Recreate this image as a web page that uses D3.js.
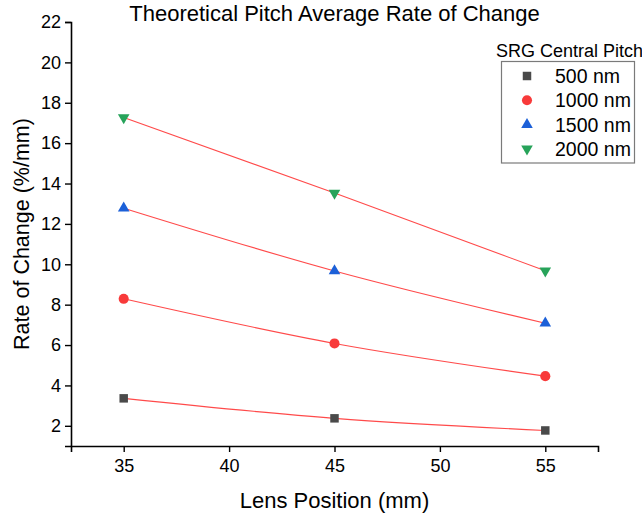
<!DOCTYPE html>
<html>
<head>
<meta charset="utf-8">
<script src="https://cdn.jsdelivr.net/npm/d3@7"></script>
<style>
  body { margin: 0; background: #fff; }
  text { font-family: "Liberation Sans", Arial, sans-serif; fill: #000; }
</style>
</head>
<body>
<div id="chart"></div>
<script>
// Data
var lensPositions = [35, 45, 55];
var pitchLabels = ["500 nm", "1000 nm", "1500 nm", "2000 nm"];
var rate500 = [3.36, 2.37, 1.77];
var rate1000 = [8.29, 6.08, 4.46];
var rate1500 = [12.78, 9.67, 7.08];
var rate2000 = [17.27, 13.53, 9.68];
var xTicks = [35, 40, 45, 50, 55];
var yTicks = [2, 4, 6, 8, 10, 12, 14, 16, 18, 20, 22];

var width = 642, height = 517;
var margin = { top: 22, right: 44, bottom: 71, left: 71 };

var svg = d3.select("#chart").append("svg")
    .attr("width", width)
    .attr("height", height);

var x = d3.scaleLinear().domain([32.5, 57.5]).range([margin.left, width - margin.right]);
var y = d3.scaleLinear().domain([1, 22]).range([height - margin.bottom, margin.top]);

// Series styles
var series = [
    { label: pitchLabels[0], values: rate500, color: "#4a4a4a", symbol: d3.symbolSquare, size: 72, rotate: 0 },
    { label: pitchLabels[1], values: rate1000, color: "#f83a3a", symbol: d3.symbolCircle, size: 80, rotate: 0 },
    { label: pitchLabels[2], values: rate1500, color: "#1c60d8", symbol: d3.symbolTriangle, size: 58, rotate: 0 },
    { label: pitchLabels[3], values: rate2000, color: "#27a35a", symbol: d3.symbolTriangle, size: 58, rotate: 180 }
];

// Axes
var minorX = d3.range(32.5, 57.6, 2.5).filter(function(d) { return d % 5 !== 0; });
var minorY = d3.range(1, 22, 2);

var xAxisG = svg.append("g")
    .attr("transform", "translate(0," + y.range()[0] + ")");
xAxisG.call(d3.axisBottom(x).tickValues(minorX).tickSize(4).tickFormat(""));
xAxisG.call(d3.axisBottom(x).tickValues(xTicks).tickSize(6).tickPadding(7).tickFormat(d3.format("d")));
xAxisG.selectAll("path").attr("stroke-width", 1.6).attr("stroke", "#000");
xAxisG.selectAll("line").attr("stroke-width", 1.4).attr("stroke", "#000");
xAxisG.selectAll("text").style("font-size", "18px").attr("fill", "#000");

var yAxisG = svg.append("g")
    .attr("transform", "translate(" + x.range()[0] + ",0)");
yAxisG.call(d3.axisLeft(y).tickValues(minorY).tickSize(4).tickFormat(""));
yAxisG.call(d3.axisLeft(y).tickValues(yTicks).tickSize(6).tickPadding(4).tickFormat(d3.format("d")));
yAxisG.selectAll("path").attr("stroke-width", 1.6).attr("stroke", "#000");
yAxisG.selectAll("line").attr("stroke-width", 1.4).attr("stroke", "#000");
yAxisG.selectAll("text").style("font-size", "18px").attr("fill", "#000");

// Fitted curves
var line = d3.line()
    .x(function(d, i) { return x(lensPositions[i]); })
    .y(function(d) { return y(d); })
    .curve(d3.curveNatural);

svg.append("g").selectAll("path")
    .data(series)
    .join("path")
    .attr("d", function(s) { return line(s.values); })
    .attr("fill", "none")
    .attr("stroke", "#ff2a2a")
    .attr("stroke-opacity", 0.85)
    .attr("stroke-width", 1.1);

// Markers
series.forEach(function(s) {
    var sym = d3.symbol().type(s.symbol).size(s.size);
    svg.append("g").selectAll("path")
        .data(s.values)
        .join("path")
        .attr("d", sym)
        .attr("fill", s.color)
        .attr("transform", function(d, i) {
            return "translate(" + x(lensPositions[i]) + "," + y(d) + ") rotate(" + s.rotate + ")";
        });
});

// Titles
svg.append("text")
    .attr("x", (x.range()[0] + x.range()[1]) / 2)
    .attr("y", 21)
    .attr("text-anchor", "middle")
    .style("font-size", "22px")
    .text("Theoretical Pitch Average Rate of Change");

svg.append("text")
    .attr("x", (x.range()[0] + x.range()[1]) / 2)
    .attr("y", 508)
    .attr("text-anchor", "middle")
    .style("font-size", "22px")
    .text("Lens Position (mm)");

svg.append("text")
    .attr("transform", "translate(28.5," + 234 + ") rotate(-90)")
    .attr("text-anchor", "middle")
    .style("font-size", "21.5px")
    .text("Rate of Change (%/mm)");

// Legend
var legend = svg.append("g");
legend.append("text")
    .attr("x", 496)
    .attr("y", 57)
    .style("font-size", "18px")
    .text("SRG Central Pitch");

legend.append("rect")
    .attr("x", 501.5)
    .attr("y", 61.5)
    .attr("width", 133)
    .attr("height", 101.5)
    .attr("fill", "#fff")
    .attr("stroke", "#7a7a7a")
    .attr("stroke-width", 1.2);

series.forEach(function(s, i) {
    var cy = 76 + i * 24.3;
    legend.append("path")
        .attr("d", d3.symbol().type(s.symbol).size(s.size)())
        .attr("fill", s.color)
        .attr("transform", "translate(527," + cy + ") rotate(" + s.rotate + ")");
    legend.append("text")
        .attr("x", 555)
        .attr("y", cy + 7)
        .style("font-size", "19.5px")
        .text(s.label);
});
</script>
</body>
</html>
